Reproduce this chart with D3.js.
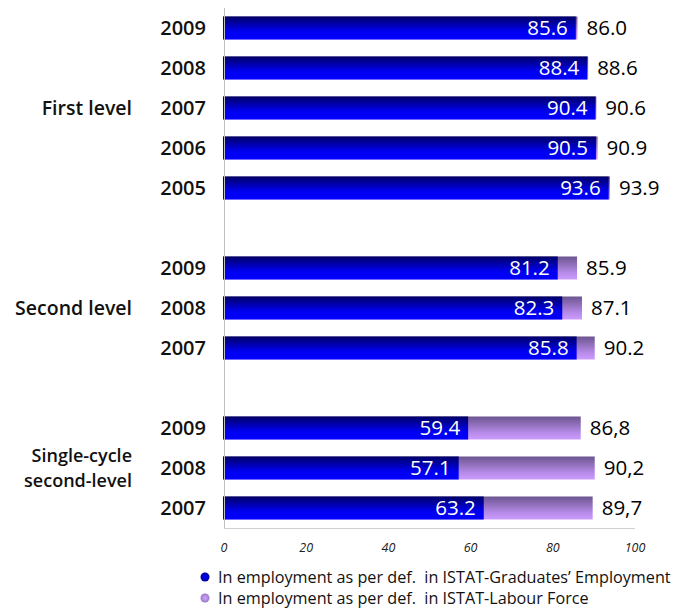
<!DOCTYPE html>
<html>
<head>
<meta charset="utf-8">
<script src="https://cdn.jsdelivr.net/npm/d3@7"></script>
<style>
  html, body { margin: 0; padding: 0; background: #fff; }
  svg { display: block; }
  text { font-family: "Open Sans", "DejaVu Sans", sans-serif; }
</style>
</head>
<body>
<svg id="chart" width="674" height="608"></svg>
<script>
// Employment rates of graduates by degree level and year
const groups = ["First level", "Second level", "Single-cycle second-level"];
const groupLines = [["First level"], ["Second level"], ["Single-cycle", "second-level"]];
const years = [
  ["2009", "2008", "2007", "2006", "2005"],
  ["2009", "2008", "2007"],
  ["2009", "2008", "2007"]
];
// In employment as per ISTAT-Graduates' Employment definition
const graduatesValues = [
  [85.6, 88.4, 90.4, 90.5, 93.6],
  [81.2, 82.3, 85.8],
  [59.4, 57.1, 63.2]
];
// In employment as per ISTAT-Labour Force definition
const labourValues = [
  [86.0, 88.6, 90.6, 90.9, 93.9],
  [85.9, 87.1, 90.2],
  [86.8, 90.2, 89.7]
];
const labourLabels = [
  ["86.0", "88.6", "90.6", "90.9", "93.9"],
  ["85.9", "87.1", "90.2"],
  ["86,8", "90,2", "89,7"]
];
const xTicks = [0, 20, 40, 60, 80, 100];
const legendLabels = [
  "In employment as per def.  in ISTAT-Graduates\u2019 Employment",
  "In employment as per def.  in ISTAT-Labour Force"
];

// Flatten into rows, with a spacer row between groups
const rows = [];
groups.forEach((g, gi) => {
  years[gi].forEach((y, i) => {
    rows.push({
      key: gi + "-" + y, group: gi, year: y,
      grad: graduatesValues[gi][i], total: labourValues[gi][i],
      totalLabel: labourLabels[gi][i]
    });
  });
  if (gi < groups.length - 1) rows.push({ key: "gap-" + gi, spacer: true });
});

const svg = d3.select("#chart");

const x = d3.scaleLinear().domain([0, 100]).range([224, 635]);
const y = d3.scaleBand()
  .domain(rows.map(r => r.key))
  .range([8, 528])
  .paddingInner(0.425)
  .paddingOuter(0.2125);

// Gradients for the two series
const defs = svg.append("defs");
const gBlue = defs.append("linearGradient").attr("id", "gradBlue")
  .attr("x1", 0).attr("y1", 0).attr("x2", 0).attr("y2", 1);
gBlue.append("stop").attr("offset", "0%").attr("stop-color", "#000066");
gBlue.append("stop").attr("offset", "65%").attr("stop-color", "#0000f0");
gBlue.append("stop").attr("offset", "100%").attr("stop-color", "#0000ff");
const gPurple = defs.append("linearGradient").attr("id", "gradPurple")
  .attr("x1", 0).attr("y1", 0).attr("x2", 0).attr("y2", 1);
gPurple.append("stop").attr("offset", "0%").attr("stop-color", "#6c5590");
gPurple.append("stop").attr("offset", "70%").attr("stop-color", "#b68ae8");
gPurple.append("stop").attr("offset", "100%").attr("stop-color", "#cc9cff");
const gDotB = defs.append("radialGradient").attr("id", "dotBlue");
gDotB.append("stop").attr("offset", "0%").attr("stop-color", "#0000ff");
gDotB.append("stop").attr("offset", "100%").attr("stop-color", "#0000a0");
const gDotP = defs.append("radialGradient").attr("id", "dotPurple");
gDotP.append("stop").attr("offset", "0%").attr("stop-color", "#d0a8ff");
gDotP.append("stop").attr("offset", "100%").attr("stop-color", "#9a78c8");

const barRows = rows.filter(r => !r.spacer);
const bh = y.bandwidth();

// Labour-force bars (total) behind, graduates bars in front
svg.append("g").selectAll("rect").data(barRows).join("rect")
  .attr("x", x(0) - 1)
  .attr("y", d => y(d.key))
  .attr("width", d => x(d.total) - x(0) + 1)
  .attr("height", bh)
  .attr("fill", "url(#gradPurple)");

svg.append("g").selectAll("rect").data(barRows).join("rect")
  .attr("x", x(0) - 1)
  .attr("y", d => y(d.key))
  .attr("width", d => x(d.grad) - x(0) + 1)
  .attr("height", bh)
  .attr("fill", "url(#gradBlue)");

// Axes lines
svg.append("line")
  .attr("x1", x(0) + 0.5).attr("x2", x(0) + 0.5)
  .attr("y1", 8).attr("y2", 528)
  .attr("stroke", "#c0c0c0").attr("stroke-width", 1);
svg.append("line")
  .attr("x1", x(0)).attr("x2", x(100))
  .attr("y1", 528.5).attr("y2", 528.5)
  .attr("stroke", "#d0d0d0").attr("stroke-width", 1);

// Value labels inside bars
svg.append("g").selectAll("text").data(barRows).join("text")
  .attr("x", d => x(d.grad) - 8)
  .attr("y", d => y(d.key) + bh / 2)
  .attr("dy", "0.36em")
  .attr("text-anchor", "end")
  .attr("fill", "#ffffff")
  .attr("font-size", 20.5)
  .text(d => d.grad.toFixed(1));

// Total labels after bars
svg.append("g").selectAll("text").data(barRows).join("text")
  .attr("x", d => x(d.total) + 9)
  .attr("y", d => y(d.key) + bh / 2)
  .attr("dy", "0.36em")
  .attr("text-anchor", "start")
  .attr("fill", "#000000")
  .attr("font-size", 20.5)
  .text(d => d.totalLabel);

// Year labels
svg.append("g").selectAll("text").data(barRows).join("text")
  .attr("x", 206)
  .attr("y", d => y(d.key) + bh / 2)
  .attr("dy", "0.36em")
  .attr("text-anchor", "end")
  .attr("fill", "#111")
  .attr("font-size", 20)
  .attr("font-weight", 600)
  .text(d => d.year);

// Group labels (two-line label set a little smaller so the lines stay apart)
groups.forEach((g, gi) => {
  const gr = barRows.filter(r => r.group === gi);
  const cy = (y(gr[0].key) + y(gr[gr.length - 1].key) + bh) / 2;
  const lines = groupLines[gi];
  const fs = lines.length > 1 ? 18 : 19.5;
  const lh = 24.6;
  lines.forEach((ln, li) => {
    svg.append("text")
      .attr("text-anchor", "end")
      .attr("fill", "#111")
      .attr("font-size", fs)
      .attr("font-weight", 600)
      .attr("x", 132)
      .attr("y", cy + (li - (lines.length - 1) / 2) * lh)
      .attr("dy", "0.36em")
      .text(ln);
  });
});

// X tick labels
svg.append("g").selectAll("text").data(xTicks).join("text")
  .attr("x", d => x(d))
  .attr("y", 552)
  .attr("text-anchor", "middle")
  .attr("font-size", 12.5)
  .attr("font-style", "italic")
  .attr("fill", "#222")
  .text(d => d);

// Legend
const legend = svg.append("g");
const legendFills = ["url(#dotBlue)", "url(#dotPurple)"];
legendLabels.forEach((lab, i) => {
  const ly = 577 + i * 21;
  legend.append("circle").attr("cx", 205).attr("cy", ly).attr("r", 4.5)
    .attr("fill", legendFills[i]);
  legend.append("text").attr("x", 218).attr("y", ly).attr("dy", "0.36em")
    .attr("font-size", 16.2).attr("fill", "#111")
    .style("white-space", "pre")
    .text(lab);
});
</script>
</body>
</html>
